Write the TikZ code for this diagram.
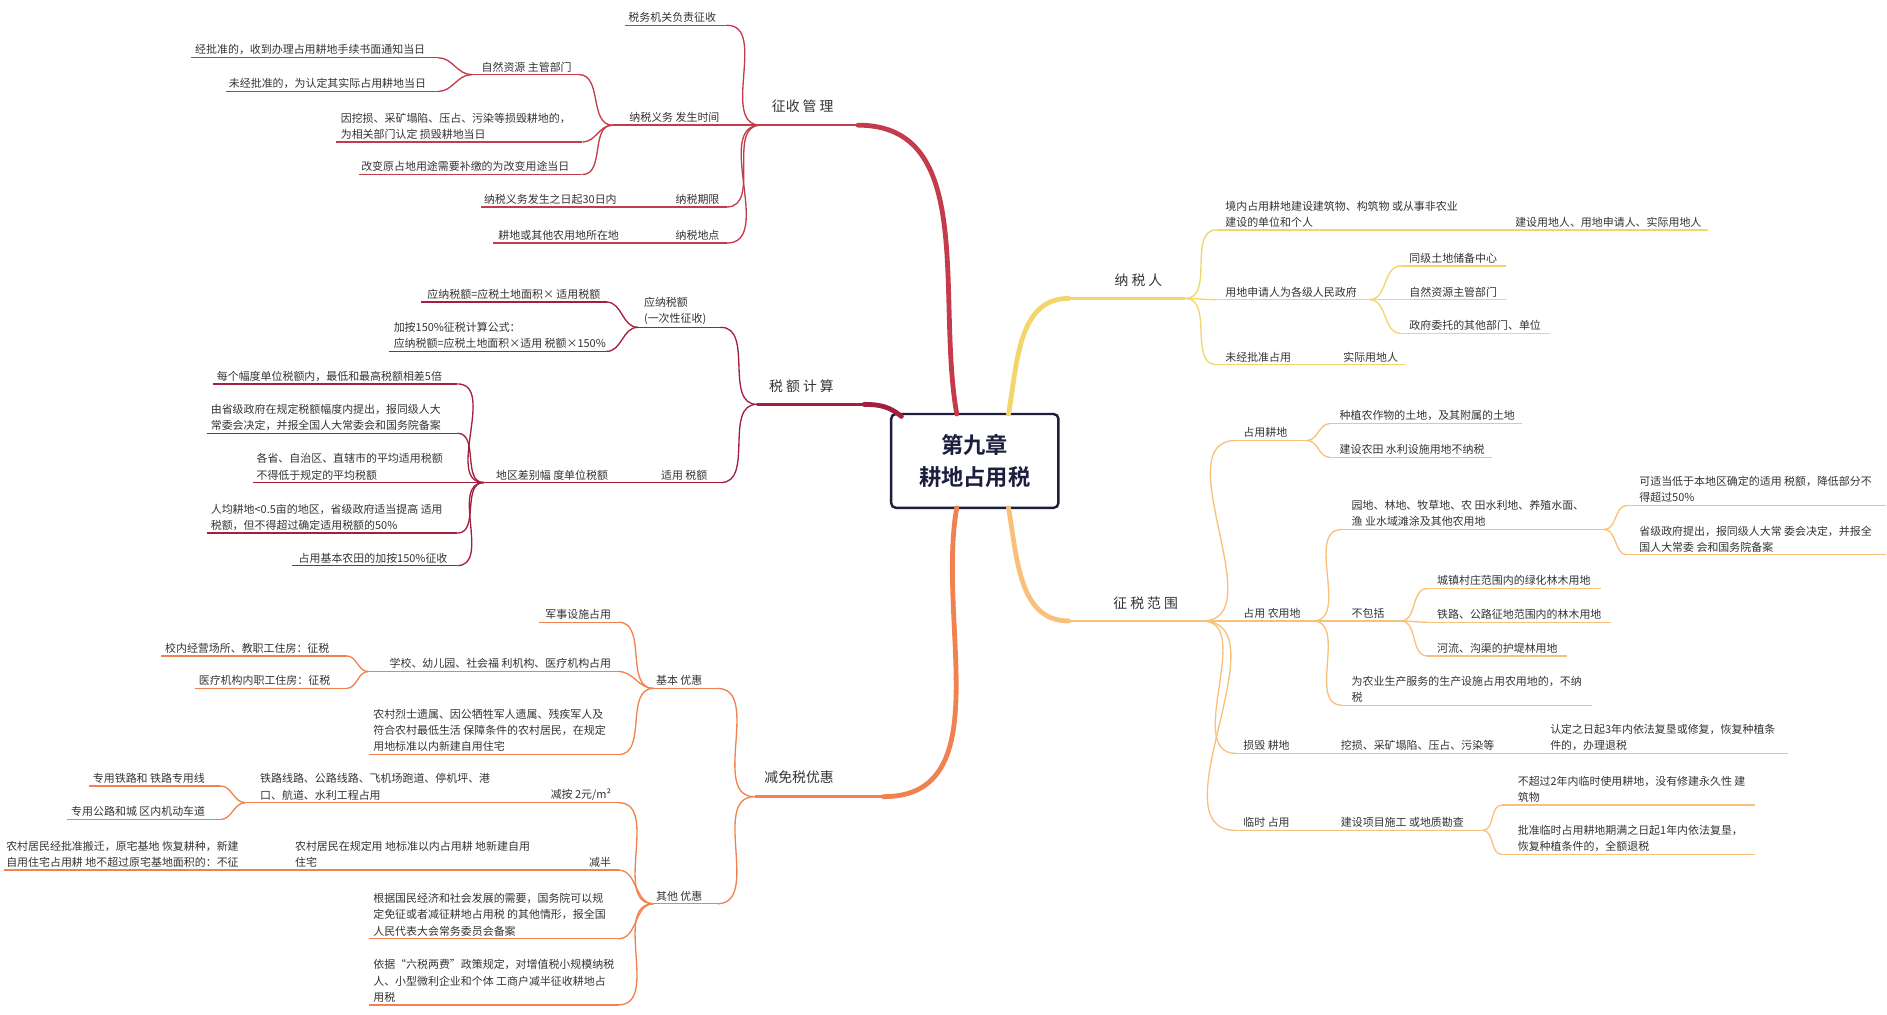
\documentclass[tikz,border=0pt]{standalone}
\usepackage{fontspec}
\setmainfont{Noto Sans CJK SC}
\newfontfamily\titlefont{Noto Sans CJK SC Bold}
\definecolor{czs}{HTML}{C43B4B}
\definecolor{cse}{HTML}{A31F3E}
\definecolor{cjm}{HTML}{F0824F}
\definecolor{cns}{HTML}{F2D56B}
\definecolor{czf}{HTML}{F9C07A}
\definecolor{tc}{HTML}{333333}
\definecolor{nav}{HTML}{1B1E3C}
\newcommand\mmline[5]{\draw[#1] (#3,#5) coordinate (#2-l) -- (#4,#5) coordinate (#2-r);}
\newcommand\mmc[3]{\draw[#1] (#2) to[out=0,in=180] (#3);}
\begin{document}
\begin{tikzpicture}[x=1pt,y=-1pt,
  t/.style={inner sep=0pt,text=tc,align=left,font=\fontsize{9.1}{13.5}\selectfont},
  lab/.style={inner sep=0pt,text=tc,font=\fontsize{11.5}{14}\selectfont},
  tw/.style={t,anchor=south west},
  te/.style={t,anchor=south east},
  l1/.style={line width=2pt},
  l2/.style={line width=1.1pt},
  thick1/.style={line width=4pt,line cap=round}]
\useasboundingbox (0,0) rectangle (1568,843);
% center
\node[draw=nav,line width=2pt,rounded corners=4pt,minimum width=139pt,minimum height=78pt,fill=white,font=\titlefont\fontsize{18.5}{27}\selectfont,text=nav,align=center] (c) at (810,383) {第九章\\耕地占用税};
\coordinate (ct) at (795,344);
\coordinate (ctl) at (749,346);
\coordinate (cb) at (795,422);
\coordinate (ctr) at (838,344);
\coordinate (cbr) at (838,422);

% ===== 征收管理 =====
\mmline{czs,l1}{zs}{632}{713}{104}
\draw[czs,thick1] (zs-r) to[out=0,in=100] (ct);
\node[lab] (zsL) at (667,88) {征收 管 理};
\mmline{czs,l2}{zs1}{519}{604}{21}
\node[tw] (zs1t) at (522,19) {税务机关负责征收};
\mmline{czs,l2}{zs2}{509}{604}{104}
\node[te] (zs2t) at (598,102) {纳税义务 发生时间};
\mmline{czs,l2}{zs21}{392}{481}{62}
\node[tw] (zs21t) at (400,60) {自然资源 主管部门};
\mmline{czs,l2}{zs211}{159}{364}{48}
\node[tw] (zs211t) at (162,46) {经批准的，收到办理占用耕地手续书面通知当日};
\mmline{czs,l2}{zs212}{188}{364}{76}
\node[tw] (zs212t) at (190,74) {未经批准的，为认定其实际占用耕地当日};
\mmline{czs,l2}{zs22}{279}{484}{118}
\node[tw] (zs22t) at (283,116) {因挖损、采矿塌陷、压占、污染等损毁耕地的，\\为相关部门认定 损毁耕地当日};
\mmline{czs,l2}{zs23}{298}{484}{145}
\node[tw] (zs23t) at (300,143) {改变原占地用途需要补缴的为改变用途当日};
\mmline{czs,l2}{zs3}{400}{604}{172}
\node[tw] (zs3a) at (402,170) {纳税义务发生之日起30日内};
\node[te] (zs3b) at (598,170) {纳税期限};
\mmline{czs,l2}{zs4}{410}{604}{202}
\node[tw] (zs4a) at (414,200) {耕地或其他农用地所在地};
\node[te] (zs4b) at (598,200) {纳税地点};
\foreach \a in {zs1,zs2,zs3,zs4} {\mmc{czs,l2}{\a-r}{zs-l}}
\foreach \a in {zs21,zs22,zs23} {\mmc{czs,l2}{\a-r}{zs2-l}}
\foreach \a in {zs211,zs212} {\mmc{czs,l2}{\a-r}{zs21-l}}

% ===== 税额计算 =====
\mmline{cse,l1}{se}{629}{718}{336}
\draw[cse,thick1] (se-r) to[out=0,in=140] (ctl);
\node[lab] (seL) at (666,321) {税 额 计 算};
\mmline{cse,l2}{se1}{530}{599}{272}
\node[tw] (se1t) at (535,270) {应纳税额\\(一次性征收)};
\mmline{cse,l2}{se11}{350}{504}{251}
\node[tw] (se11t) at (355,249) {应纳税额=应税土地面积× 适用税额};
\mmline{cse,l2}{se12}{323}{504}{292}
\node[tw] (se12t) at (327,290) {加按150\%征税计算公式：\\应纳税额=应税土地面积×适用 税额×150\%};
\mmline{cse,l2}{se2}{402}{599}{401}
\node[tw] (se2a) at (412,399) {地区差别幅 度单位税额};
\node[te] (se2b) at (588,399) {适用 税额};
\mmline{cse,l2}{se21}{177}{380}{319}
\node[tw] (se21t) at (180,317) {每个幅度单位税额内，最低和最高税额相差5倍};
\mmline{cse,l2}{se22}{172}{380}{360}
\node[tw] (se22t) at (175,358) {由省级政府在规定税额幅度内提出，报同级人大\\常委会决定，并报全国人大常委会和国务院备案};
\mmline{cse,l2}{se23}{210}{380}{401}
\node[tw] (se23t) at (213,399) {各省、自治区、直辖市的平均适用税额\\不得低于规定的平均税额};
\mmline{cse,l2}{se24}{172}{380}{443}
\node[tw] (se24t) at (175,441) {人均耕地<0.5亩的地区，省级政府适当提高 适用\\税额，但不得超过确定适用税额的50\%};
\mmline{cse,l2}{se25}{243}{380}{470}
\node[te] (se25t) at (372,468) {占用基本农田的加按150\%征收};
\foreach \a in {se1,se2} {\mmc{cse,l2}{\a-r}{se-l}}
\foreach \a in {se11,se12} {\mmc{cse,l2}{\a-r}{se1-l}}
\foreach \a in {se21,se22,se23,se24,se25} {\mmc{cse,l2}{\a-r}{se2-l}}

% ===== 减免税优惠 =====
\mmline{cjm,l1}{jm}{627}{734}{662}
\draw[cjm,thick1] (jm-r) to[out=0,in=-100] (cb);
\node[lab] (jmL) at (664,646) {减免税优惠};
\mmline{cjm,l2}{jm1}{543}{596}{572}
\node[tw] (jm1t) at (545,570) {基本 优惠};
\mmline{cjm,l2}{jm11}{448}{514}{517}
\node[te] (jm11t) at (508,515) {军事设施占用};
\mmline{cjm,l2}{jm12}{306}{514}{558}
\node[te] (jm12t) at (508,556) {学校、幼儿园、社会福 利机构、医疗机构占用};
\mmline{cjm,l2}{jm121}{134}{288}{545}
\node[tw] (jm121t) at (137,543) {校内经营场所、教职工住房：征税};
\mmline{cjm,l2}{jm122}{162}{288}{572}
\node[tw] (jm122t) at (165,570) {医疗机构内职工住房：征税};
\mmline{cjm,l2}{jm13}{307}{514}{627}
\node[tw] (jm13t) at (310,625) {农村烈士遗属、因公牺牲军人遗属、残疾军人及\\符合农村最低生活 保障条件的农村居民，在规定\\用地标准以内新建自用住宅};
\mmline{cjm,l2}{jm2}{543}{596}{751}
\node[tw] (jm2t) at (545,749) {其他 优惠};
\mmline{cjm,l2}{jm21}{204}{514}{667}
\node[tw] (jm21a) at (216,665) {铁路线路、公路线路、飞机场跑道、停机坪、港\\口、航道、水利工程占用};
\node[te] (jm21b) at (508,665) {减按 2元/m²};
\mmline{cjm,l2}{jm211}{74}{183}{653}
\node[tw] (jm211t) at (77,651) {专用铁路和 铁路专用线};
\mmline{cjm,l2}{jm212}{56}{183}{681}
\node[tw] (jm212t) at (59,679) {专用公路和城 区内机动车道};
\mmline{cjm,l2}{jm22}{3}{514}{723}
\node[tw] (jm22a) at (5,721) {农村居民经批准搬迁，原宅基地 恢复耕种，新建\\自用住宅占用耕 地不超过原宅基地面积的：不征};
\node[tw] (jm22b) at (245,721) {农村居民在规定用 地标准以内占用耕 地新建自用\\住宅};
\node[te] (jm22c) at (508,721) {减半};
\mmline{cjm,l2}{jm23}{307}{514}{780}
\node[tw] (jm23t) at (310,778) {根据国民经济和社会发展的需要，国务院可以规\\定免征或者减征耕地占用税 的其他情形，报全国\\人民代表大会常务委员会备案};
\mmline{cjm,l2}{jm24}{307}{514}{835}
\node[tw] (jm24t) at (310,833) {依据“六税两费”政策规定，对增值税小规模纳税\\人、小型微利企业和个体 工商户减半征收耕地占\\用税};
\foreach \a in {jm1,jm2} {\mmc{cjm,l2}{\a-r}{jm-l}}
\foreach \a in {jm11,jm12,jm13} {\mmc{cjm,l2}{\a-r}{jm1-l}}
\foreach \a in {jm121,jm122} {\mmc{cjm,l2}{\a-r}{jm12-l}}
\foreach \a in {jm21,jm22,jm23,jm24} {\mmc{cjm,l2}{\a-r}{jm2-l}}
\foreach \a in {jm211,jm212} {\mmc{cjm,l2}{\a-r}{jm21-l}}

% ===== 纳税人 =====
\mmline{cns,l1}{ns}{888}{985}{248}
\draw[cns,thick1] (ns-l) to[out=180,in=80] (ctr);
\node[lab] (nsL) at (946,233) {纳 税 人};
\mmline{cns,l2}{ns1}{1011}{1419}{191}
\node[tw] (ns1a) at (1018,189) {境内占用耕地建设建筑物、构筑物 或从事非农业\\建设的单位和个人};
\node[te] (ns1b) at (1414,189) {建设用地人、用地申请人、实际用地人};
\mmline{cns,l2}{ns2}{1011}{1138}{249}
\node[tw] (ns2t) at (1018,247) {用地申请人为各级人民政府};
\mmline{cns,l2}{ns21}{1164}{1251}{221}
\node[tw] (ns21t) at (1171,219) {同级土地储备中心};
\mmline{cns,l2}{ns22}{1164}{1251}{249}
\node[tw] (ns22t) at (1171,247) {自然资源主管部门};
\mmline{cns,l2}{ns23}{1164}{1288}{277}
\node[tw] (ns23t) at (1171,275) {政府委托的其他部门、单位};
\mmline{cns,l2}{ns3}{1011}{1168}{303}
\node[tw] (ns3a) at (1018,301) {未经批准占用};
\node[tw] (ns3b) at (1116,301) {实际用地人};
\foreach \a in {ns1,ns2,ns3} {\mmc{cns,l2}{ns-r}{\a-l}}
\foreach \a in {ns21,ns22,ns23} {\mmc{cns,l2}{ns2-r}{\a-l}}

% ===== 征税范围 =====
\mmline{czf,l1}{zf}{888}{999}{516}
\draw[czf,thick1] (zf-l) to[out=180,in=-80] (cbr);
\node[lab] (zfL) at (952,501) {征 税 范 围};
\mmline{czf,l2}{zf1}{1027}{1086}{366}
\node[tw] (zf1t) at (1033,364) {占用耕地};
\mmline{czf,l2}{zf11}{1105}{1265}{352}
\node[tw] (zf11t) at (1113,350) {种植农作物的土地，及其附属的土地};
\mmline{czf,l2}{zf12}{1105}{1240}{380}
\node[tw] (zf12t) at (1113,378) {建设农田 水利设施用地不纳税};
\mmline{czf,l2}{zf2}{1027}{1091}{516}
\node[tw] (zf2t) at (1033,514) {占用 农用地};
\mmline{czf,l2}{zf21}{1115}{1333}{440}
\node[tw] (zf21t) at (1123,438) {园地、林地、牧草地、农 田水利地、养殖水面、\\渔 业水域滩涂及其他农用地};
\mmline{czf,l2}{zf211}{1352}{1567}{420}
\node[tw] (zf211t) at (1362,418) {可适当低于本地区确定的适用 税额，降低部分不\\得超过50\%};
\mmline{czf,l2}{zf212}{1352}{1567}{461}
\node[tw] (zf212t) at (1362,459) {省级政府提出，报同级人大常 委会决定，并报全\\国人大常委 会和国务院备案};
\mmline{czf,l2}{zf22}{1115}{1164}{516}
\node[tw] (zf22t) at (1123,514) {不包括};
\mmline{czf,l2}{zf221}{1186}{1330}{489}
\node[tw] (zf221t) at (1194,487) {城镇村庄范围内的绿化林木用地};
\mmline{czf,l2}{zf222}{1186}{1339}{517}
\node[tw] (zf222t) at (1194,515) {铁路、公路征地范围内的林木用地};
\mmline{czf,l2}{zf223}{1186}{1302}{545}
\node[tw] (zf223t) at (1194,543) {河流、沟渠的护堤林用地};
\mmline{czf,l2}{zf23}{1115}{1323}{586}
\node[tw] (zf23t) at (1123,584) {为农业生产服务的生产设施占用农用地的，不纳\\税};
\mmline{czf,l2}{zf3}{1027}{1486}{626}
\node[tw] (zf3a) at (1033,624) {损毁 耕地};
\node[tw] (zf3b) at (1114,624) {挖损、采矿塌陷、压占、污染等};
\node[tw] (zf3c) at (1288,624) {认定之日起3年内依法复垦或修复，恢复种植条\\件的，办理退税};
\mmline{czf,l2}{zf4}{1027}{1232}{690}
\node[tw] (zf4a) at (1033,688) {临时 占用};
\node[tw] (zf4b) at (1114,688) {建设项目施工 或地质勘查};
\mmline{czf,l2}{zf41}{1248}{1458}{669}
\node[tw] (zf41t) at (1261,667) {不超过2年内临时使用耕地，没有修建永久性 建\\筑物};
\mmline{czf,l2}{zf42}{1248}{1458}{710}
\node[tw] (zf42t) at (1261,708) {批准临时占用耕地期满之日起1年内依法复垦，\\恢复种植条件的，全额退税};
\foreach \a in {zf1,zf2,zf3,zf4} {\mmc{czf,l2}{zf-r}{\a-l}}
\foreach \a in {zf11,zf12} {\mmc{czf,l2}{zf1-r}{\a-l}}
\foreach \a in {zf21,zf22,zf23} {\mmc{czf,l2}{zf2-r}{\a-l}}
\foreach \a in {zf211,zf212} {\mmc{czf,l2}{zf21-r}{\a-l}}
\foreach \a in {zf221,zf222,zf223} {\mmc{czf,l2}{zf22-r}{\a-l}}
\foreach \a in {zf41,zf42} {\mmc{czf,l2}{zf4-r}{\a-l}}
\end{tikzpicture}
\end{document}
